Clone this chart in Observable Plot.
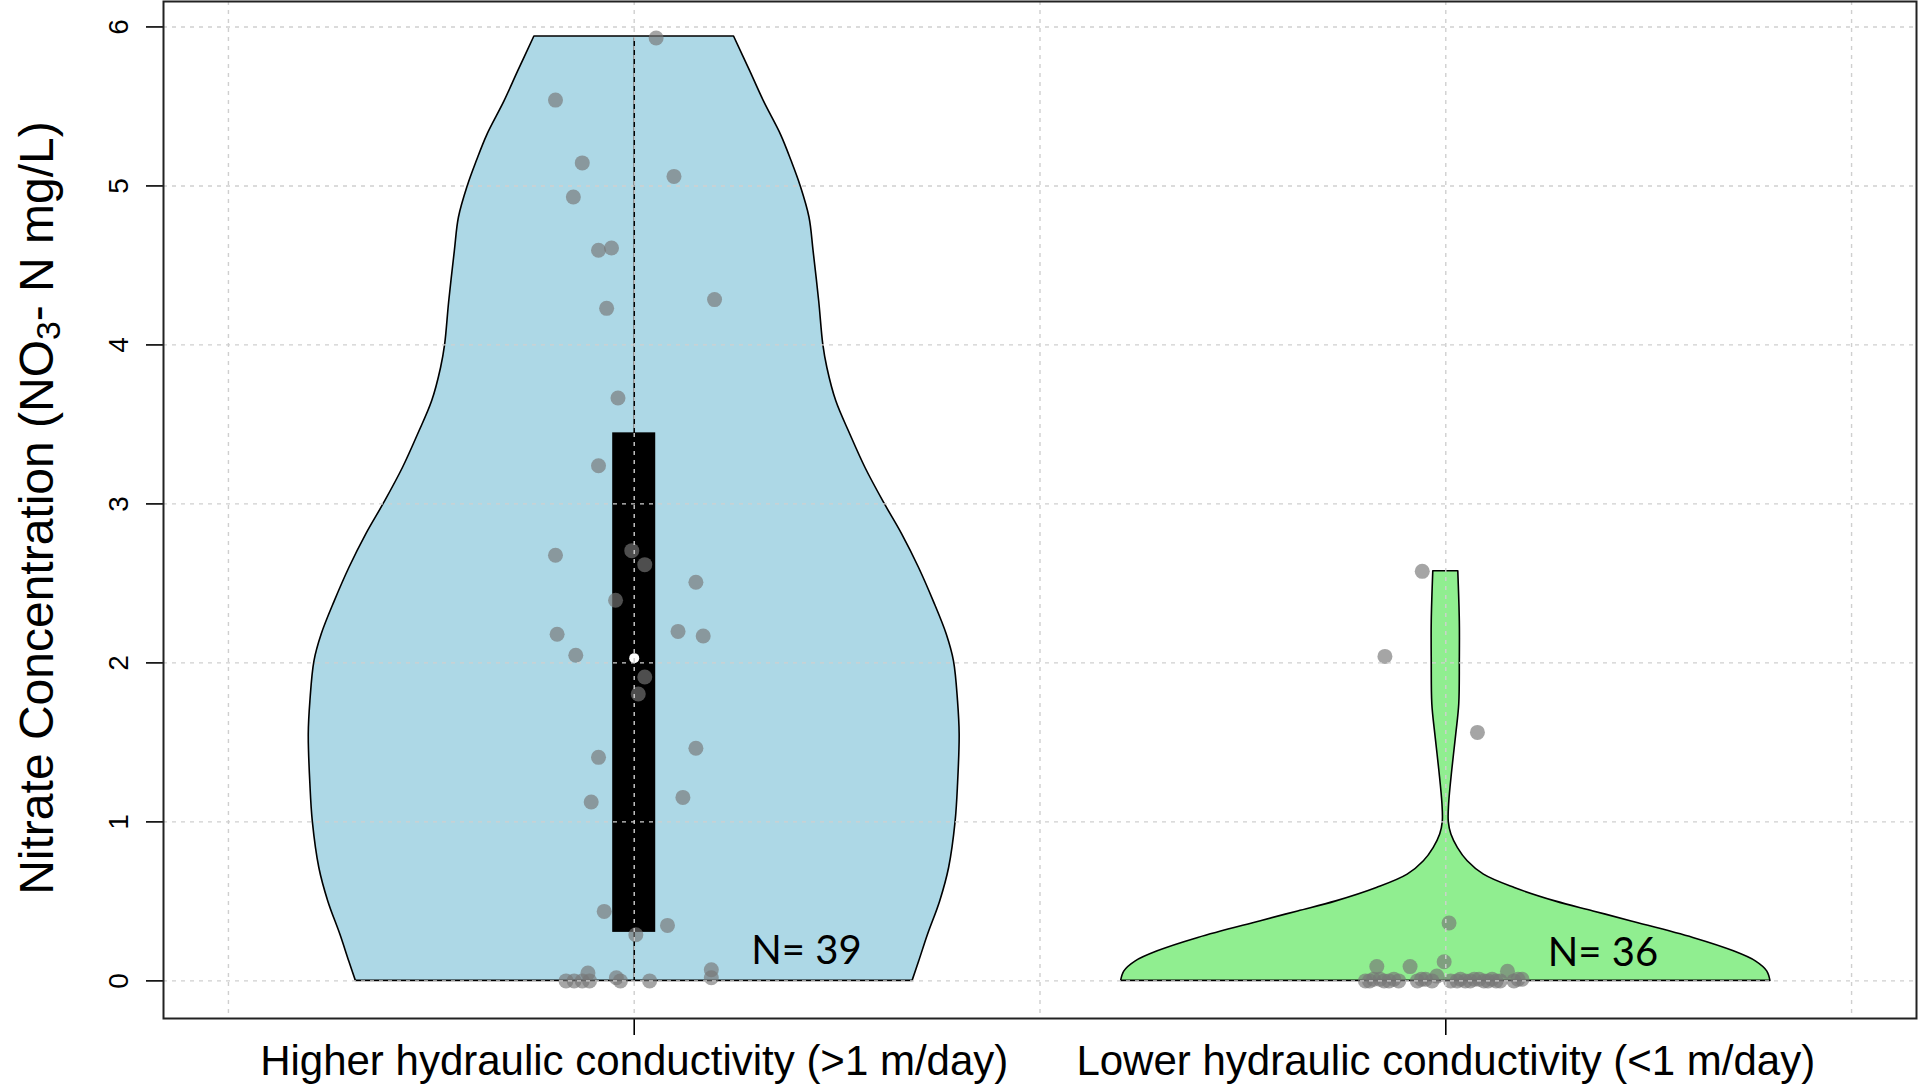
<!DOCTYPE html>
<html>
<head>
<meta charset="utf-8">
<script src="https://cdn.jsdelivr.net/npm/d3@7"></script>
<script src="https://cdn.jsdelivr.net/npm/@observablehq/plot@0.6"></script>
<style>
  body { margin: 0; background: #fff; }
  svg { display: block; }
</style>
</head>
<body>
<div id="chart"></div>
<script>
// ---- data ----
const categories = ["Higher hydraulic conductivity (>1 m/day)", "Lower hydraulic conductivity (<1 m/day)"];
const sampleSizes = [39, 36];
const yTicks = [0, 1, 2, 3, 4, 5, 6];
const gridXValues = [0.5, 1, 1.5, 2, 2.5];

// nitrate values (mg/L) and horizontal jitter (category units)
const higherValues = [5.93, 5.54, 5.145, 5.06, 4.93, 4.595, 4.61, 4.285, 4.23, 3.666, 3.24,
  2.677, 2.706, 2.618, 2.507, 2.394, 2.18, 2.198, 2.169, 2.048, 1.911, 1.804, 1.463, 1.406,
  1.125, 1.154, 0.437, 0.349, 0.29, 0.07, 0.02, 0, 0, 0.05, 0, 0.02, 0, 0, 0];
const higherJitter = [0.027, -0.097, -0.064, 0.049, -0.075, -0.044, -0.028, 0.099, -0.034, -0.020, -0.044,
  -0.097, -0.003, 0.013, 0.076, -0.023, -0.095, 0.054, 0.085, -0.072, 0.013, 0.005, 0.076, -0.044,
  -0.053, 0.060, -0.037, 0.041, 0.002, 0.095, 0.095, -0.084, -0.074, -0.057, -0.055, -0.022, -0.017, 0.019, -0.064];

const lowerValues = [2.576, 2.041, 1.563, 0.364, 0.12, 0.09, 0.09, 0.03, 0.06,
  0, 0.01, 0, 0.01, 0, 0.01, 0, 0, 0.01, 0, 0.01, 0, 0, 0.01,
  0, 0.01, 0, 0, 0.01, 0, 0, 0.01, 0, 0.01, 0, 0, 0.01];
const lowerJitter = [-0.029, -0.075, 0.039, 0.004, -0.002, -0.085, -0.044, -0.011, 0.076,
  -0.099, -0.089, -0.076, -0.064, -0.035, -0.025, 0.014, 0.024, 0.035, 0.047, 0.057, 0.067, 0.084, 0.094,
  -0.094, -0.081, -0.070, -0.058, -0.030, -0.017, 0.006, 0.018, 0.030, 0.041, 0.052, 0.062, 0.089];

// violin outlines: concentration levels and half-widths (category units)
const higherDensityY = [0, 0.12, 0.29, 0.5, 0.71, 1.0, 1.235, 1.55, 1.758, 2.01, 2.18, 2.387, 2.597,
  2.81, 3.006, 3.226, 3.44, 3.645, 3.855, 4.0, 4.27, 4.59, 4.80, 5.0, 5.155, 5.32, 5.53, 5.72, 5.94];
const higherHalfWidth = [0.343, 0.351, 0.362, 0.377, 0.388, 0.396, 0.399, 0.401, 0.399, 0.394, 0.385, 0.369, 0.351,
  0.330, 0.308, 0.285, 0.266, 0.249, 0.238, 0.233, 0.228, 0.221, 0.216, 0.205, 0.194, 0.181, 0.160, 0.143, 0.123];

const lowerDensityY = [0, 0.06, 0.123, 0.186, 0.27, 0.374, 0.437, 0.5, 0.584, 0.668, 0.752, 0.835, 0.92,
  1.0, 1.11, 1.32, 1.55, 1.74, 2.01, 2.26, 2.576];
const lowerHalfWidth = [0.400, 0.396, 0.382, 0.355, 0.305, 0.229, 0.182, 0.135, 0.085, 0.047, 0.027, 0.015, 0.0069,
  0.0037, 0.0041, 0.0079, 0.0129, 0.0166, 0.0173, 0.0173, 0.0154];

// box (Q1, median, Q3) of the higher group
const higherQuartiles = [0.305, 2.03, 3.447];

// ---- build tables ----
const violinHigher = higherDensityY.map((y, i) => ({group: 1, y, hw: higherHalfWidth[i]}));
const violinLower = lowerDensityY.map((y, i) => ({group: 2, y, hw: lowerHalfWidth[i]}));
const points = [
  ...higherValues.map((v, i) => ({x: 1 + higherJitter[i], v})),
  ...lowerValues.map((v, i) => ({x: 2 + lowerJitter[i], v}))
];

const boxHalf = 0.0265;
const gridStyle = {stroke: "#cfcfcf", strokeOpacity: 1, strokeDasharray: "4,5", strokeWidth: 1.4};

const chart = Plot.plot({
  width: 1928,
  height: 1088,
  marginLeft: 163,
  marginRight: 12,
  marginTop: 1,
  marginBottom: 70,
  style: {fontFamily: "'Liberation Sans', Arial, sans-serif", background: "white", color: "black"},
  x: {type: "linear", domain: [0.42, 2.58], axis: null},
  y: {domain: [-0.2366, 6.16], axis: null},
  marks: [
    Plot.areaX(violinHigher, {y: "y", x1: d => d.group - d.hw, x2: d => d.group + d.hw,
      fill: "#add8e6", stroke: "black", strokeWidth: 1.6, curve: "catmull-rom"}),
    Plot.areaX(violinLower, {y: "y", x1: d => d.group - d.hw, x2: d => d.group + d.hw,
      fill: "#90ee90", stroke: "black", strokeWidth: 1.6, curve: "catmull-rom"}),
    Plot.rect([higherQuartiles], {x1: () => 1 - boxHalf, x2: () => 1 + boxHalf, y1: d => d[0], y2: d => d[2], fill: "black"}),
    Plot.ruleX([1], {x: d => d, y1: () => d3.min(higherValues), y2: () => d3.max(higherValues), stroke: "black", strokeWidth: 1.6}),
    Plot.dot([higherQuartiles[1]], {x: () => 1, y: d => d, r: 5, fill: "white", stroke: "none"}),
    Plot.dot(points, {x: "x", y: "v", r: 7.5, fill: "rgb(118,118,118)", fillOpacity: 0.66, stroke: "none"}),
    Plot.gridY(yTicks, gridStyle),
    Plot.gridX(gridXValues, gridStyle),
    Plot.axisY(yTicks, {tickSize: 17, tickPadding: 19, tickRotate: -90, tickFormat: d3.format("d"),
      fontSize: 28, strokeWidth: 1.6, label: null}),
    Plot.axisX([1, 2], {tickSize: 17, tickPadding: 10, tickFormat: d => categories[d - 1],
      fontSize: 42, strokeWidth: 1.6, label: null}),
    Plot.frame({stroke: "#222", strokeWidth: 2}),
    Plot.text([0], {x: () => 1, y: () => 0, text: () => "N= " + sampleSizes[0], dx: 117, dy: -17,
      textAnchor: "start", lineAnchor: "bottom", fontSize: 40, fontFamily: "Lato, 'Open Sans', sans-serif", fill: "black"}),
    Plot.text([1], {x: () => 2, y: () => 0, text: () => "N= " + sampleSizes[1], dx: 102, dy: -15,
      textAnchor: "start", lineAnchor: "bottom", fontSize: 40, fontFamily: "Lato, 'Open Sans', sans-serif", fill: "black"}),
    Plot.text(["Nitrate Concentration (NO3- N mg/L)"], {frameAnchor: "left", rotate: -90, dx: -111, dy: -2,
      textAnchor: "middle", lineAnchor: "bottom", fontSize: 48, fill: "black", className: "ylabel"})
  ]
});

document.getElementById("chart").appendChild(chart);

// subscript "3" in the y-axis title
d3.select(chart).selectAll("g.ylabel text").each(function() {
  const t = d3.select(this);
  t.text(null);
  t.append("tspan").text("Nitrate Concentration (NO");
  t.append("tspan").attr("dy", "0.22em").attr("font-size", "70%").text("3");
  t.append("tspan").attr("dy", "-0.154em").text("- N mg/L)");
});
</script>
</body>
</html>
